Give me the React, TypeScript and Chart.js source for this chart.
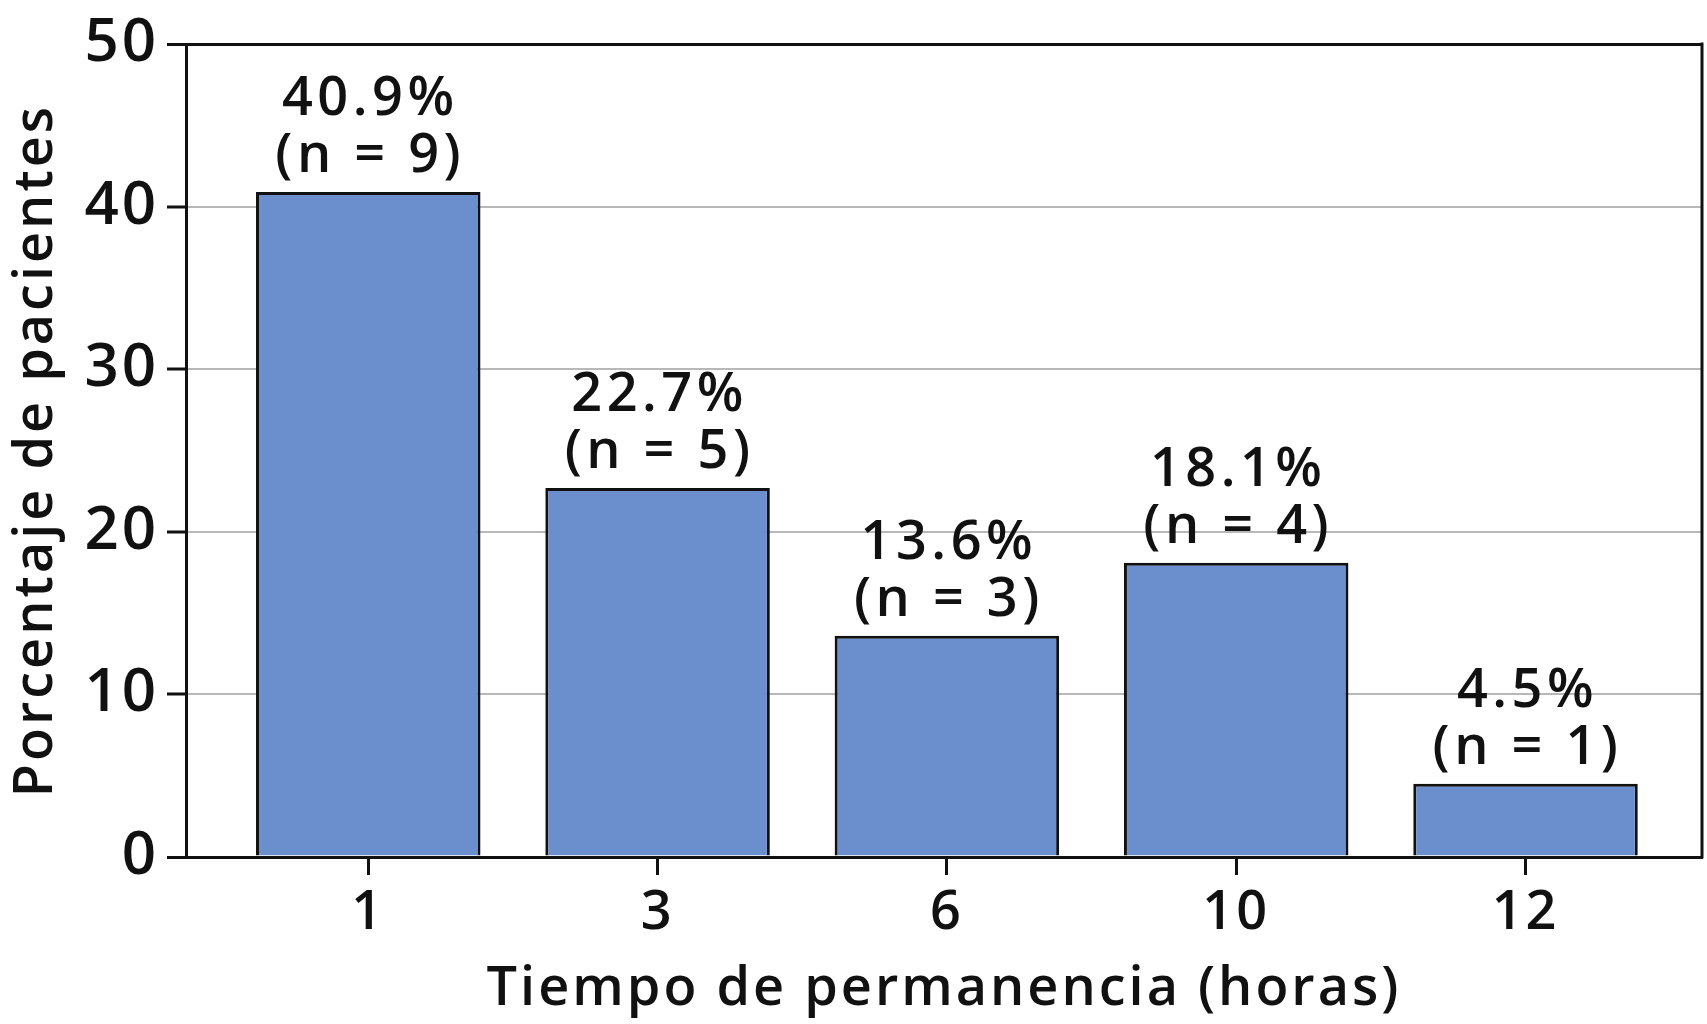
import React, { useEffect, useRef } from "react";
import Chart from "chart.js/auto";

const categories = ["1", "3", "6", "10", "12"];
const percentValues = [40.9, 22.7, 13.6, 18.1, 4.5];
const patientCounts = [9, 5, 3, 4, 1];
const yTicks = [0, 10, 20, 30, 40, 50];

const FONT = "'Open Sans'";

function App(): JSX.Element {
  const chartRef = useRef<HTMLCanvasElement | null>(null);
  const chartInstance = useRef<Chart | null>(null);

  useEffect(() => {
    if (!chartRef.current) return;
    const ctx = chartRef.current.getContext("2d");
    if (!ctx) return;
    if (chartInstance.current) chartInstance.current.destroy();

    // the original typeface is wider, so open the letters up a bit
    const spacing = {
      id: "spacing",
      beforeDraw(chart: any) {
        chart.ctx.letterSpacing = "3px";
      },
    };

    // two-line labels above every bar
    const barLabels = {
      id: "barLabels",
      afterDatasetsDraw(chart: any) {
        const c = chart.ctx;
        const meta = chart.getDatasetMeta(0);
        c.save();
        c.letterSpacing = "4.5px";
        c.fillStyle = "#111";
        c.textAlign = "center";
        c.textBaseline = "alphabetic";
        c.font = `600 54px ${FONT}`;
        meta.data.forEach((bar: any, i: number) => {
          c.fillText(`${percentValues[i].toFixed(1)}%`, bar.x + 2, bar.y - 77);
          c.fillText(`(n = ${patientCounts[i]})`, bar.x + 2, bar.y - 20);
        });
        c.restore();
      },
    };

    // right edge of the frame
    const frame = {
      id: "frame",
      afterDraw(chart: any) {
        const { ctx: c, chartArea } = chart;
        c.save();
        c.strokeStyle = "#111";
        c.lineWidth = 3;
        c.beginPath();
        c.moveTo(chartArea.right, chartArea.top - 1.5);
        c.lineTo(chartArea.right, chartArea.bottom + 1.5);
        c.stroke();
        c.restore();
      },
    };

    chartInstance.current = new Chart(ctx, {
      type: "bar",
      data: {
        datasets: [
          {
            data: percentValues.map((v, i) => ({ x: i, y: v })),
            backgroundColor: "#6b8ecd",
            borderColor: "#111",
            borderWidth: 3,
            borderSkipped: "bottom",
            barPercentage: 0.776,
            categoryPercentage: 1,
          },
        ],
      },
      options: {
        animation: false,
        responsive: true,
        maintainAspectRatio: false,
        devicePixelRatio: 1,
        layout: { padding: { top: 43, right: 5, left: 0, bottom: 0 } },
        plugins: {
          legend: { display: false },
          tooltip: { enabled: false },
        },
        scales: {
          x: {
            type: "linear",
            offset: false,
            min: -0.63,
            max: 4.61,
            afterBuildTicks: (axis: any) => {
              axis.ticks = categories.map((_, i) => ({ value: i }));
            },
            afterFit: (axis: any) => {
              axis.height = 167;
            },
            ticks: {
              color: "#111",
              font: { family: FONT, size: 54, weight: "600" },
              padding: 6,
              callback: (v: any) => categories[v] ?? "",
            },
            grid: {
              offset: false,
              drawOnChartArea: false,
              drawTicks: true,
              tickLength: 18,
              tickColor: "#111",
              tickWidth: 3,
            },
            border: { color: "#111", width: 3 },
            title: {
              display: true,
              text: "Tiempo de permanencia (horas)",
              color: "#111",
              font: { family: FONT, size: 54, weight: "600" },
              padding: { top: 0, bottom: 2 },
            },
          },
          y: {
            min: 0,
            max: 50,
            afterBuildTicks: (axis: any) => {
              axis.ticks = yTicks.map((v) => ({ value: v }));
            },
            afterFit: (axis: any) => {
              axis.width = 186;
            },
            ticks: {
              color: "#111",
              font: { family: FONT, size: 60, weight: "600" },
              padding: 8,
            },
            grid: {
              color: (c: any) => (c.tick && (c.tick.value === 0 || c.tick.value === 50) ? "#111" : "#b8b8b8"),
              lineWidth: (c: any) => (c.tick && (c.tick.value === 0 || c.tick.value === 50) ? 3 : 2),
              tickLength: 19,
              tickColor: "#111",
              tickWidth: 3,
            },
            border: { color: "#111", width: 3 },
            title: {
              display: true,
              text: "Porcentaje de pacientes",
              color: "#111",
              font: { family: FONT, size: 54, weight: "600" },
              padding: { top: 4, bottom: 0 },
            },
          },
        },
      },
      plugins: [spacing, barLabels, frame],
    } as any);

    return () => {
      chartInstance.current?.destroy();
      chartInstance.current = null;
    };
  }, []);

  return (
    <div style={{ position: "fixed", left: 0, top: 0, width: 1707, height: 1024, background: "#fff" }}>
      <canvas ref={chartRef} />
    </div>
  );
}

export default App;
